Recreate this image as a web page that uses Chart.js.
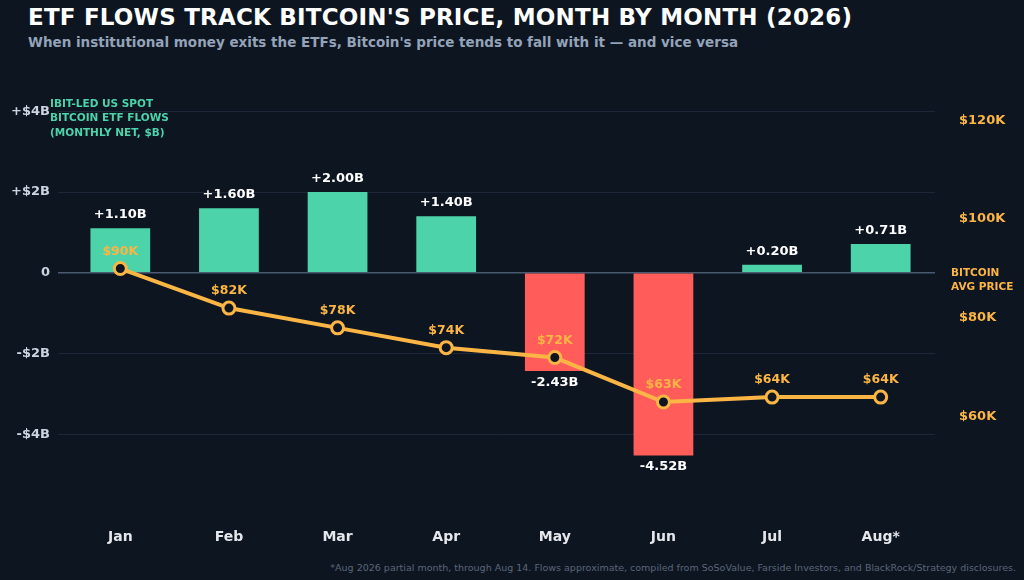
<!DOCTYPE html>
<html><head><meta charset="utf-8">
<script src="https://cdn.jsdelivr.net/npm/chart.js@4/dist/chart.umd.min.js"></script>
<style>
html,body{margin:0;padding:0;background:#0d1521;width:1024px;height:580px;overflow:hidden;font-family:"DejaVu Sans",sans-serif}
#t{position:absolute;left:28px;top:4px;color:#fff;font-weight:bold;font-size:23px;letter-spacing:0.2px}
#s{position:absolute;left:28px;top:34px;color:#94a3b8;font-weight:bold;font-size:13.5px}
#f{position:absolute;right:8px;top:562px;color:#5b6678;font-size:9.5px}
canvas{position:absolute;left:0;top:0}
</style></head><body>
<div id="t">ETF FLOWS TRACK BITCOIN'S PRICE, MONTH BY MONTH (2026)</div>
<div id="s">When institutional money exits the ETFs, Bitcoin's price tends to fall with it — and vice versa</div>
<div id="f">*Aug 2026 partial month, through Aug 14. Flows approximate, compiled from SoSoValue, Farside Investors, and BlackRock/Strategy disclosures.</div>
<canvas id="c" width="1024" height="580"></canvas>
<script>
const months=["Jan","Feb","Mar","Apr","May","Jun","Jul","Aug*"];
const flows=[1.10,1.60,2.00,1.40,-2.43,-4.52,0.20,0.71];
const prices=[90,82,78,74,72,63,64,64];
const flowTicks=[-4,-2,0,2,4];
const priceTicks=[60,80,100,120];
const GREEN="#4cd3aa",RED="#ff5c5a",ORANGE="#fbb545";
const labels={id:'lbl',afterDatasetsDraw(ch){
  const c=ch.ctx;c.save();c.textAlign='center';
  c.font='bold 13px "DejaVu Sans"';c.fillStyle='#fff';
  ch.getDatasetMeta(0).data.forEach((b,i)=>{const v=flows[i];
    const txt=(v>0?'+':'')+v.toFixed(2)+'B';
    if(v>=0){c.textBaseline='bottom';c.fillText(txt,b.x,b.y-7);}else{c.textBaseline='top';c.fillText(txt,b.x,b.y+5);}});
  c.fillStyle=ORANGE;c.textBaseline='bottom';c.font='bold 12.5px "DejaVu Sans"';
  ch.getDatasetMeta(1).data.forEach((p,i)=>c.fillText('$'+prices[i]+'K',p.x,p.y-11));
  c.textAlign='left';c.textBaseline='middle';c.font='bold 10.5px "DejaVu Sans"';c.fillStyle=GREEN;
  ['IBIT-LED US SPOT','BITCOIN ETF FLOWS','(MONTHLY NET, $B)'].forEach((s,i)=>c.fillText(s,50,104+i*14.5));
  c.fillStyle=ORANGE;['BITCOIN','AVG PRICE'].forEach((s,i)=>c.fillText(s,951,273+i*14));
  c.restore();}};
new Chart(document.getElementById('c'),{
  data:{labels:months,datasets:[
    {type:'bar',data:flows,yAxisID:'y',backgroundColor:flows.map(v=>v>=0?GREEN:RED),barPercentage:0.55,categoryPercentage:1,order:2},
    {type:'line',data:prices,yAxisID:'y2',borderColor:ORANGE,borderWidth:4,pointRadius:6,pointBorderWidth:3,pointBackgroundColor:'#0d1521',pointBorderColor:ORANGE,order:1,tension:0}
  ]},
  options:{responsive:false,animation:false,layout:{padding:{top:91,left:0,right:0,bottom:0}},
    plugins:{legend:{display:false},tooltip:{enabled:false}},
    scales:{
      x:{grid:{display:false},border:{display:false},ticks:{color:'#e5e7eb',font:{size:14,weight:'bold',family:'DejaVu Sans'},padding:26},afterFit(s){s.height=85;}},
      y:{position:'left',min:-5.5,max:4.5,afterBuildTicks(s){s.ticks=flowTicks.map(v=>({value:v}));},
        grid:{color:c=>c.tick&&c.tick.value===0?'#4a5a70':'#1c2737',lineWidth:c=>c.tick&&c.tick.value===0?1.5:1},border:{display:false},
        ticks:{color:'#cbd5e1',font:{size:13,weight:'bold',family:'DejaVu Sans'},padding:8,callback:v=>v>0?'+$'+v+'B':v<0?'-$'+(-v)+'B':'0'},afterFit(s){s.width=66;}},
      y2:{position:'right',min:44.2,max:125.9,afterBuildTicks(s){s.ticks=priceTicks.map(v=>({value:v}));},
        grid:{display:false},border:{display:false},
        ticks:{color:ORANGE,font:{size:13,weight:'bold',family:'DejaVu Sans'},padding:16,callback:v=>'$'+v+'K'},afterFit(s){s.width=89;}}
    }},
  plugins:[labels]});
</script></body></html>
